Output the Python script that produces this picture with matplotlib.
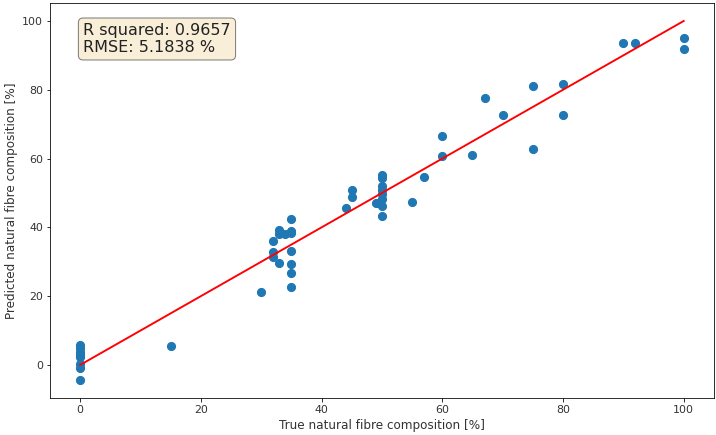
import numpy as np
import matplotlib
matplotlib.use("Agg")
import matplotlib.pyplot as plt

# true vs predicted natural fibre composition [%]
y_true = [0, 0, 0, 0, 0, 0, 0, 0,
          15,
          30, 32, 32, 32, 33, 33, 33, 34,
          35, 35, 35, 35, 35, 35, 35,
          44, 45, 45, 49,
          50, 50, 50, 50, 50, 50, 50, 50,
          55, 57, 60, 60, 65, 67, 70,
          75, 75, 80, 80, 90, 92, 100, 100]
y_pred = [5.8, 4.8, 3.8, 2.8, 2.2, 0.2, -0.8, -4.4,
          5.5,
          21.2, 36.0, 32.9, 31.5, 29.7, 39.2, 38.0, 38.2,
          42.3, 38.5, 33.1, 29.4, 26.8, 22.7, 39.0,
          45.7, 50.8, 48.8, 47.2,
          55.1, 54.3, 52.0, 51.0, 49.6, 48.2, 46.2, 43.3,
          47.4, 54.7, 60.8, 66.5, 61.0, 77.7, 72.7,
          81.1, 62.7, 81.6, 72.7, 93.7, 93.7, 95.1, 92.0]

r2 = 0.9657
rmse = 5.1838

fig, ax = plt.subplots(figsize=(716 / 72, 435 / 72), dpi=72)
plt.subplots_adjust(left=0.0698, right=0.997, top=0.993, bottom=0.085)

ax.scatter(y_true, y_pred, s=66)
ax.plot([0, 100], [0, 100], color='red', lw=1.9)

ax.set_xlabel('True natural fibre composition [%]', color='#333333', fontsize=12)
ax.set_ylabel('Predicted natural fibre composition [%]', color='#333333', fontsize=12)
ax.tick_params(labelcolor='#333333', labelsize=11)

props = dict(boxstyle='round', facecolor='wheat', alpha=0.5)
txt = 'R squared: %.4f\nRMSE: %.4f %%' % (r2, rmse)
ax.text(0.05, 0.95, txt, transform=ax.transAxes, fontsize=16,
        verticalalignment='top', bbox=props, color='#222222')

plt.savefig('out.png', dpi=72)
